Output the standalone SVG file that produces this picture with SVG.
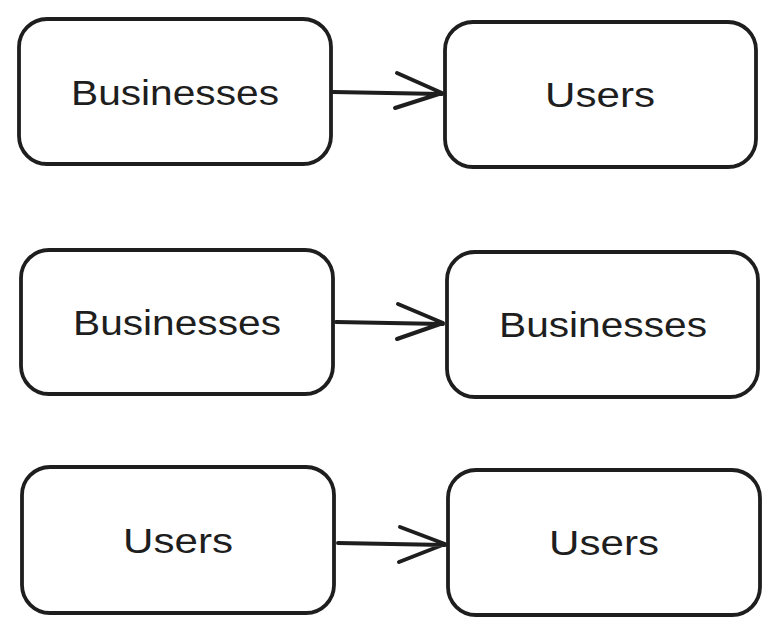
<svg xmlns="http://www.w3.org/2000/svg" width="779" height="636" viewBox="0 0 779 636">
<style>
.box{fill:#fff;stroke:#1e1e1e;stroke-width:3.8;stroke-linejoin:round}
.lbl{font-family:"Liberation Sans",Arial,sans-serif;font-size:35px;fill:#1e1e1e;text-anchor:middle}
.edge{fill:none;stroke:#1e1e1e;stroke-width:4;stroke-linecap:round;stroke-linejoin:round}
</style>
<rect width="779" height="636" fill="#fff"/>
<g id="connectors">
<path class="edge" d="M333 92 L442 94 M397 73 L442 93 L395 108"/>
<path class="edge" d="M336 322 L443 324 M398 304 L443 323 L397 339"/>
<path class="edge" d="M338 543 L445 545 M400 527 L445 544 L399 562"/>
</g>
<g id="n1"><rect class="box" x="19" y="19" width="312" height="145" rx="28"/><text class="lbl" x="175" y="105" textLength="208" lengthAdjust="spacingAndGlyphs">Businesses</text></g>
<g id="n2"><rect class="box" x="445" y="22" width="311" height="145" rx="28"/><text class="lbl" x="600" y="107" textLength="110" lengthAdjust="spacingAndGlyphs">Users</text></g>
<g id="n3"><rect class="box" x="21" y="250" width="312" height="144" rx="28"/><text class="lbl" x="177" y="335" textLength="208" lengthAdjust="spacingAndGlyphs">Businesses</text></g>
<g id="n4"><rect class="box" x="447" y="252" width="311" height="145" rx="28"/><text class="lbl" x="603" y="337" textLength="208" lengthAdjust="spacingAndGlyphs">Businesses</text></g>
<g id="n5"><rect class="box" x="22" y="467" width="312" height="146" rx="28"/><text class="lbl" x="178" y="553" textLength="110" lengthAdjust="spacingAndGlyphs">Users</text></g>
<g id="n6"><rect class="box" x="448" y="470" width="312" height="145" rx="28"/><text class="lbl" x="604" y="555" textLength="110" lengthAdjust="spacingAndGlyphs">Users</text></g>
</svg>
